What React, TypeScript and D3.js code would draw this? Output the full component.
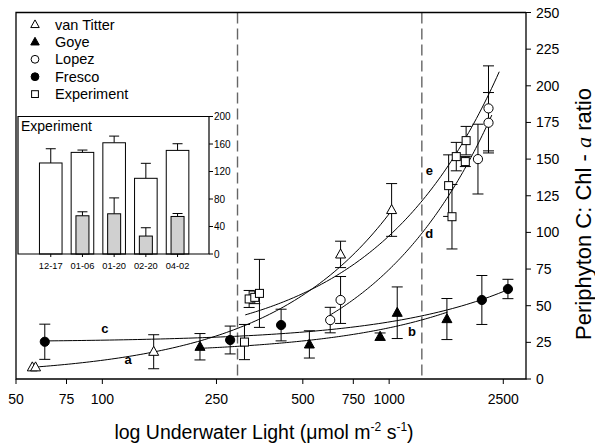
import React from 'react';
import * as d3 from 'd3';

// ---------- data ----------
const vanTitterLight = [57, 58.5, 151, 677, 1020];
const vanTitterRatio = [8, 8, 18.6, 85, 115.3];
const vanTitterErr = [0, 0, 11.6, 9, 18];

const goyeLight = [219, 527, 930, 1067, 1590];
const goyeRatio = [22, 23.6, 28.9, 45.2, 40.9];
const goyeErr = [9, 9.3, 2.5, 17.6, 14];

const lopezLight = [623, 677, 2040, 2220, 2220];
const lopezRatio = [40.2, 53.9, 150, 174.8, 184.6];
const lopezErr = [8.7, 16, 23.8, 20.6, 29];

const frescoLight = [63, 279, 420, 2105, 2595];
const frescoRatio = [25.4, 26.6, 36.8, 53.9, 61.4];
const frescoErr = [12, 9.5, 10.8, 16.7, 6.6];

const expLight = [313, 325, 340, 353, 1612, 1656, 1714, 1843, 1855];
const expRatio = [25.2, 54.6, 55.7, 58.4, 131.9, 110.7, 151.7, 148.3, 162.6];
const expErr = [12, 5.8, 4.3, 23.2, 21, 22, 9.7, 3.4, 9.7];

// fitted regression lines: ratio = intercept + slope * light
const curveNames = ['a', 'b', 'c', 'd', 'e'];
const curveIntercept = [1.67, 16.98, 25.1, -7.6, 18.9];
const curveSlope = [0.111, 0.01794, 0.01382, 0.0823, 0.0788];
const curveFrom = [57, 219, 63, 623, 315];
const curveTo = [1020, 1600, 2595, 2280, 2420];
const curveLabelLight = [123, 1200, 102, 1380, 1380];
const curveLabelRatio = [10.5, 29.5, 31.5, 96, 139];

const dashedLight = [296, 1300];

const xTicks = [50, 75, 100, 250, 500, 750, 1000, 2500];
const yTicks = [0, 25, 50, 75, 100, 125, 150, 175, 200, 225, 250];

// inset
const insetDates = ['12-17', '01-06', '01-20', '02-20', '04-02'];
const insetWhite = [132.4, 147.8, 161.8, 110.1, 150.7];
const insetWhiteErr = [20.7, 3.4, 9.7, 21.8, 9.7];
const insetGrey = [null, 55.6, 58.5, 26.1, 54.6];
const insetGreyErr = [null, 5.8, 23.1, 12.1, 4.3];
const insetTicks = [0, 40, 80, 120, 160, 200];

const legendNames = ['van Titter', 'Goye', 'Lopez', 'Fresco', 'Experiment'];
const legendShapes = ['triOpen', 'triFilled', 'circOpen', 'circFilled', 'square'];

const FONT = 'Liberation Sans, Arial, Helvetica, sans-serif';

const x = d3.scaleLog().domain([50, 3000]).range([16, 526]);
const y = d3.scaleLinear().domain([0, 250]).range([379, 12.5]);

function Marker({ shape, cx, cy, s = 1 }: { shape: string; cx: number; cy: number; s?: number }) {
  if (shape === 'triOpen' || shape === 'triFilled') {
    const h = 9 * s, w = 10 * s;
    const p = `M${cx},${cy - h * 0.6}L${cx + w / 2},${cy + h * 0.4}L${cx - w / 2},${cy + h * 0.4}Z`;
    return <path d={p} fill={shape === 'triFilled' ? '#000' : '#fff'} stroke="#000" strokeWidth={1} />;
  }
  if (shape === 'circOpen' || shape === 'circFilled') {
    return <circle cx={cx} cy={cy} r={4.6 * s} fill={shape === 'circFilled' ? '#000' : '#fff'} stroke="#000" strokeWidth={1} />;
  }
  const a = 8 * s;
  return <rect x={cx - a / 2} y={cy - a / 2} width={a} height={a} fill="#fff" stroke="#000" strokeWidth={1} />;
}

function Series({ light, ratio, err, shape }: { light: number[]; ratio: number[]; err: number[]; shape: string }) {
  return (
    <g>
      {light.map((L, i) =>
        err[i] > 0 ? (
          <g key={'e' + i} stroke="#000" strokeWidth={1}>
            <line x1={x(L)} x2={x(L)} y1={y(ratio[i] + err[i])} y2={y(ratio[i] - err[i])} />
            <line x1={x(L) - 5.5} x2={x(L) + 5.5} y1={y(ratio[i] + err[i])} y2={y(ratio[i] + err[i])} />
            <line x1={x(L) - 5.5} x2={x(L) + 5.5} y1={y(ratio[i] - err[i])} y2={y(ratio[i] - err[i])} />
          </g>
        ) : null
      )}
      {light.map((L, i) => (
        <Marker key={'m' + i} shape={shape} cx={x(L)} cy={y(ratio[i])} />
      ))}
    </g>
  );
}

function Inset() {
  const xb = d3.scaleBand().domain(insetDates).range([34.9, 193.4]).padding(0);
  const yi = d3.scaleLinear().domain([0, 200]).range([254, 116.5]);
  const left = 18, right = 209, top = 116.5, bottom = 254;
  return (
    <g fontFamily={FONT}>
      <rect x={left} y={top} width={right - left} height={bottom - top} fill="#fff" stroke="none" />
      {insetDates.map((d, i) => {
        const c = (xb(d) as number) + xb.bandwidth() / 2;
        const wv = insetWhite[i], we = insetWhiteErr[i];
        const gv = insetGrey[i], ge = insetGreyErr[i];
        return (
          <g key={d}>
            <line x1={c} x2={c} y1={yi(wv)} y2={yi(wv + we)} stroke="#000" strokeWidth={1} />
            <line x1={c - 5} x2={c + 5} y1={yi(wv + we)} y2={yi(wv + we)} stroke="#000" strokeWidth={1} />
            <rect x={c - 11.3} y={yi(wv)} width={22.6} height={bottom - yi(wv)} fill="#fff" stroke="#000" strokeWidth={1} />
            {gv != null && (
              <g>
                <line x1={c} x2={c} y1={yi(gv)} y2={yi(gv + (ge as number))} stroke="#000" strokeWidth={1} />
                <line x1={c - 5} x2={c + 5} y1={yi(gv + (ge as number))} y2={yi(gv + (ge as number))} stroke="#000" strokeWidth={1} />
                <rect x={c - 6.5} y={yi(gv)} width={13} height={bottom - yi(gv)} fill="#d0d0d0" stroke="#000" strokeWidth={1} />
              </g>
            )}
            <line x1={c} x2={c} y1={bottom} y2={bottom + 3} stroke="#000" strokeWidth={1} />
            <text x={c} y={bottom + 15} fontSize={9.3} textAnchor="middle" fill="#000">{d}</text>
          </g>
        );
      })}
      <path d={`M${right},${top}H${left}V${bottom}H${right}V${top}`} fill="none" stroke="#000" strokeWidth={1.2} />
      {insetTicks.map((t) => (
        <g key={t}>
          <line x1={right} x2={right + 4} y1={yi(t)} y2={yi(t)} stroke="#000" strokeWidth={1} />
          <text x={right + 5} y={yi(t) + 3.5} fontSize={10} fill="#000">{t}</text>
        </g>
      ))}
      <text x={21} y={131} fontSize={14} fill="#000">Experiment</text>
    </g>
  );
}

export default function App() {
  const curvePaths = curveNames.map((n, k) => {
    const n0 = Math.log(curveFrom[k]), n1 = Math.log(curveTo[k]);
    const pts = d3.range(0, 101).map((i) => Math.exp(n0 + ((n1 - n0) * i) / 100));
    const line = d3
      .line<number>()
      .x((L) => x(L))
      .y((L) => y(curveIntercept[k] + curveSlope[k] * L));
    return line(pts) as string;
  });

  return (
    <svg width={595} height={446} style={{ position: 'absolute', left: 0, top: 0, background: '#fff' }} fontFamily={FONT}>
      <rect x={0} y={0} width={595} height={446} fill="#fff" />
      {/* dashed lines */}
      {dashedLight.map((L) => (
        <line key={L} x1={x(L)} x2={x(L)} y1={12.5} y2={379} stroke="#666" strokeWidth={1.4} strokeDasharray="11,5" />
      ))}
      {/* curves */}
      {curvePaths.map((p, k) => (
        <path key={curveNames[k]} d={p} fill="none" stroke="#000" strokeWidth={1} />
      ))}
      {curveNames.map((n, k) => (
        <text key={'l' + n} x={x(curveLabelLight[k])} y={y(curveLabelRatio[k])} fontSize={13} fontWeight="bold" textAnchor="middle" fill="#000">{n}</text>
      ))}
      <Series light={frescoLight} ratio={frescoRatio} err={frescoErr} shape="circFilled" />
      <Series light={goyeLight} ratio={goyeRatio} err={goyeErr} shape="triFilled" />
      <Series light={vanTitterLight} ratio={vanTitterRatio} err={vanTitterErr} shape="triOpen" />
      <Series light={lopezLight} ratio={lopezRatio} err={lopezErr} shape="circOpen" />
      <Series light={expLight} ratio={expRatio} err={expErr} shape="square" />

      {/* frame */}
      <path d="M526,12.5H16V379H526V12.5" fill="none" stroke="#000" strokeWidth={1.3} />
      {/* x axis */}
      {xTicks.map((t) => (
        <g key={t}>
          <line x1={x(t)} x2={x(t)} y1={379} y2={384} stroke="#000" strokeWidth={1} />
          <text x={x(t)} y={404} fontSize={14} textAnchor="middle" fill="#000">{t}</text>
        </g>
      ))}
      {/* y axis right */}
      {yTicks.map((t) => (
        <g key={t}>
          <line x1={526} x2={531} y1={y(t)} y2={y(t)} stroke="#000" strokeWidth={1} />
          <text x={536} y={y(t) + 5} fontSize={14} fill="#000">{t}</text>
        </g>
      ))}
      <text x={264} y={439} fontSize={19.5} textAnchor="middle" fill="#000">
        log Underwater Light (μmol m<tspan dy={-8} fontSize={12}>-2</tspan>
        <tspan dy={8}> s</tspan>
        <tspan dy={-8} fontSize={12}>-1</tspan>
        <tspan dy={8}>)</tspan>
      </text>
      <text transform="translate(591,214) rotate(-90)" fontSize={22} textAnchor="middle" fill="#000">
        Periphyton C: Chl - <tspan fontStyle="italic" fontFamily="Liberation Serif, Times New Roman, serif">a</tspan> ratio
      </text>

      {/* legend */}
      {legendNames.map((n, i) => (
        <g key={n}>
          <Marker shape={legendShapes[i]} cx={35} cy={24.5 + i * 17.4} s={0.85} />
          <text x={55} y={29.5 + i * 17.4} fontSize={14.5} fill="#000">{n}</text>
        </g>
      ))}
      <Inset />
    </svg>
  );
}
